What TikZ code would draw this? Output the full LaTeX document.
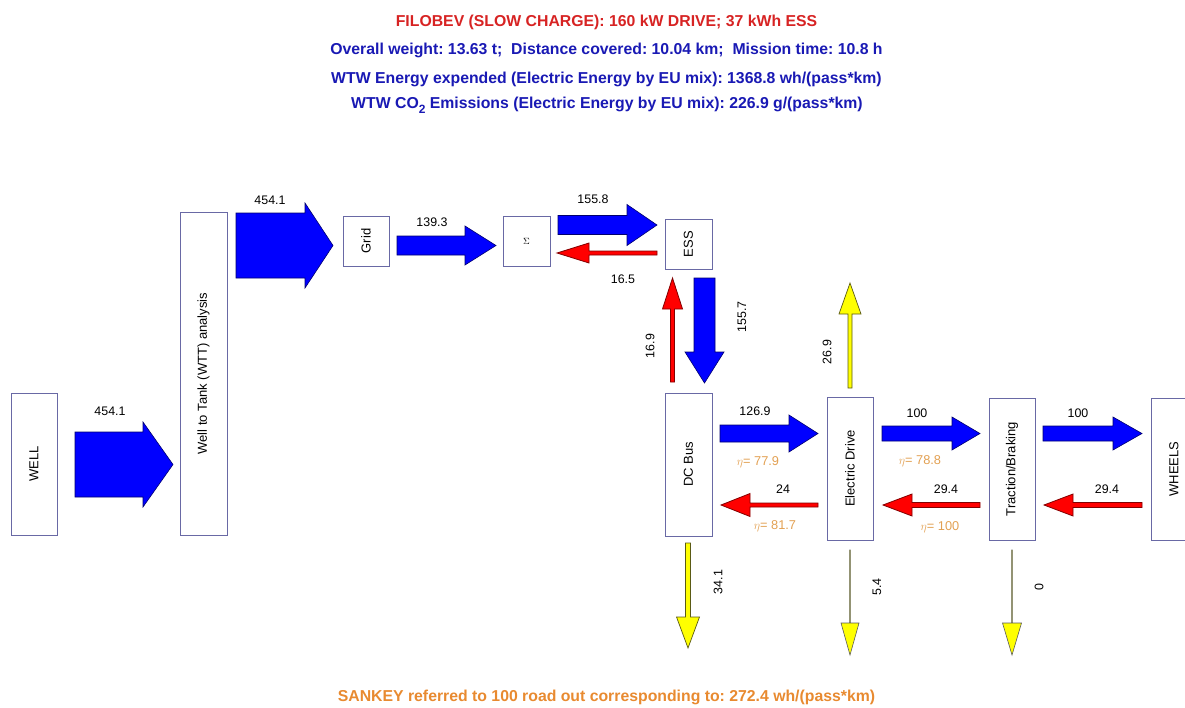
\documentclass[tikz,border=0pt]{standalone}
\usepackage{fontspec}
\usepackage{graphicx}
\setmainfont{Liberation Sans}
\usetikzlibrary{calc}
\frenchspacing
\definecolor{titlered}{RGB}{215,35,35}
\definecolor{titleblue}{RGB}{25,25,180}
\definecolor{bottomorange}{RGB}{232,138,48}
\definecolor{etaorange}{RGB}{226,160,82}
\definecolor{boxborder}{RGB}{105,105,165}
\definecolor{bluefill}{RGB}{0,0,255}
\definecolor{blueline}{RGB}{0,0,110}
\definecolor{redfill}{RGB}{255,0,0}
\definecolor{redline}{RGB}{130,0,0}
\definecolor{yellowfill}{RGB}{255,255,0}
\definecolor{yellowline}{RGB}{90,90,20}
\definecolor{grayline}{RGB}{90,90,90}
% #1 style, #2 start, #3 tip, #4 half body, #5 half head, #6 head length (signed)
\newcommand\HArrow[6]{%
  \draw[#1] let \p1=(#2), \p2=(#3), \n1={#6} in
    (\x1,{\y1+#4}) -- ({\x2-\n1},{\y1+#4}) -- ({\x2-\n1},{\y1+#5}) -- (\x2,\y1)
    -- ({\x2-\n1},{\y1-#5}) -- ({\x2-\n1},{\y1-#4}) -- (\x1,{\y1-#4}) -- cycle;}
\newcommand\VArrow[6]{%
  \draw[#1] let \p1=(#2), \p2=(#3), \n1={#6} in
    ({\x1-#4},\y1) -- ({\x1-#4},{\y2+\n1}) -- ({\x1-#5},{\y2+\n1}) -- (\x1,\y2)
    -- ({\x1+#5},{\y2+\n1}) -- ({\x1+#4},{\y2+\n1}) -- ({\x1+#4},\y1) -- cycle;}
\tikzset{
  box/.style={draw=boxborder, line width=0.7pt, fill=white, inner sep=0pt,
    font=\fontsize{13}{15}\selectfont},
  bluearr/.style={fill=bluefill, draw=blueline, line width=0.6pt, line join=miter},
  redarr/.style={fill=redfill, draw=redline, line width=0.8pt},
  yelarr/.style={fill=yellowfill, draw=yellowline, line width=0.7pt},
  grayarr/.style={fill=yellowfill, draw=grayline, line width=0.6pt},
  num/.style={font=\fontsize{12.4}{14}\selectfont, inner sep=0pt},
  eta/.style={font=\fontsize{12.8}{14}\selectfont, text=etaorange, inner sep=0pt},
  title/.style={font=\fontsize{15.8}{18}\selectfont\bfseries, inner sep=0pt},
}
\begin{document}
\begin{tikzpicture}[x=1pt,y=-1pt]
\useasboundingbox (0,0) rectangle (1185,707);
\clip (0,0) rectangle (1185,707);
% titles
\node[title, text=titlered] (t1) at (606.5,22) {FILOBEV (SLOW CHARGE): 160 kW DRIVE; 37 kWh ESS};
\node[title, text=titleblue] (t2) at (606.5,50) {Overall weight: 13.63 t;\ \ Distance covered: 10.04 km;\ \ Mission time: 10.8 h};
\node[title, text=titleblue] (t3) at (606.5,79) {WTW Energy expended (Electric Energy by EU mix): 1368.8 wh/(pass*km)};
\node[title, text=titleblue] (t4) at (607,105) {WTW CO\raisebox{-0.6ex}{\fontsize{12}{12}\selectfont 2} Emissions (Electric Energy by EU mix): 226.9 g/(pass*km)};
\node[title, text=bottomorange] (t5) at (606.5,697) {SANKEY referred to 100 road out corresponding to: 272.4 wh/(pass*km)};
% boxes
\node[box, minimum width=46pt, minimum height=142pt] (well) at (34,464) {\rotatebox{90}{WELL}};
\node[box, minimum width=47pt, minimum height=323pt] (wtt) at (203.5,373.5) {\rotatebox{90}{Well to Tank (WTT) analysis}};
\node[box, minimum width=46pt, minimum height=50pt] (grid) at (366,241) {\rotatebox{90}{Grid}};
\node[box, minimum width=47pt, minimum height=50pt] (sigma) at (526.5,241) {\fontsize{9}{10}\selectfont$\Sigma$};
\node[box, minimum width=47pt, minimum height=50pt] (ess) at (688.5,244) {\rotatebox{90}{ESS}};
\node[box, minimum width=47pt, minimum height=143pt] (dcbus) at (688.5,464.5) {\rotatebox{90}{DC Bus}};
\node[box, minimum width=46pt, minimum height=143pt] (edrive) at (850,468.5) {\rotatebox{90}{Electric Drive}};
\node[box, minimum width=46pt, minimum height=142pt] (traction) at (1012,469) {\rotatebox{90}{Traction/Braking}};
\node[box, minimum width=46pt, minimum height=142pt] (wheels) at (1174,469) {\rotatebox{90}{WHEELS}};
% arrow end points
\coordinate (a1s) at (75,464.5);   \coordinate (a1e) at (173,464.5);
\coordinate (a2s) at (236,245.5);  \coordinate (a2e) at (333,245.5);
\coordinate (a3s) at (397,245.5);  \coordinate (a3e) at (496,245.5);
\coordinate (a4s) at (558,225);    \coordinate (a4e) at (657,225);
\coordinate (a5s) at (657,253);    \coordinate (a5e) at (557,253);
\coordinate (a6s) at (704.5,278);  \coordinate (a6e) at (704.5,383);
\coordinate (a7s) at (672.5,382);  \coordinate (a7e) at (672.5,278);
\coordinate (a8s) at (720,433.5);  \coordinate (a8e) at (818,433.5);
\coordinate (a9s) at (818,505);    \coordinate (a9e) at (721,505);
\coordinate (a10s) at (688,543);   \coordinate (a10e) at (688,648);
\coordinate (a11s) at (850,388);   \coordinate (a11e) at (850,283);
\coordinate (a12s) at (850,550);   \coordinate (a12e) at (850,655);
\coordinate (a13s) at (882,433.5); \coordinate (a13e) at (980,433.5);
\coordinate (a14s) at (1043,433.5);\coordinate (a14e) at (1142,433.5);
\coordinate (a15s) at (980,505);   \coordinate (a15e) at (883,505);
\coordinate (a16s) at (1142,505);  \coordinate (a16e) at (1044,505);
\coordinate (a17s) at (1012,550);  \coordinate (a17e) at (1012,655);
% arrows
\HArrow{bluearr}{a1s}{a1e}{32.5pt}{42.5pt}{30pt}
\HArrow{bluearr}{a2s}{a2e}{32.5pt}{42.5pt}{28pt}
\HArrow{bluearr}{a3s}{a3e}{9.5pt}{19.5pt}{31pt}
\HArrow{bluearr}{a4s}{a4e}{9.5pt}{20.5pt}{30pt}
\HArrow{redarr}{a5s}{a5e}{2pt}{10pt}{-32pt}
\VArrow{bluearr}{a6s}{a6e}{10.5pt}{19.5pt}{31pt}
\VArrow{redarr}{a7s}{a7e}{2pt}{10pt}{-31pt}
\HArrow{bluearr}{a8s}{a8e}{8.5pt}{18.5pt}{29pt}
\HArrow{redarr}{a9s}{a9e}{2pt}{11.5pt}{-29pt}
\VArrow{yelarr}{a10s}{a10e}{2.5pt}{11.5pt}{31pt}
\VArrow{yelarr}{a11s}{a11e}{2pt}{11pt}{-31pt}
\VArrow{grayarr}{a12s}{a12e}{0.3pt}{9pt}{32pt}
\HArrow{bluearr}{a13s}{a13e}{7.5pt}{16.5pt}{28pt}
\HArrow{bluearr}{a14s}{a14e}{7.5pt}{16.5pt}{29pt}
\HArrow{redarr}{a15s}{a15e}{2.5pt}{11pt}{-29pt}
\HArrow{redarr}{a16s}{a16e}{2.5pt}{11pt}{-29pt}
\VArrow{grayarr}{a17s}{a17e}{0.3pt}{9.5pt}{32pt}
% labels
\node[num] (l1) at (110,411) {454.1};
\node[num] (l2) at (270,200) {454.1};
\node[num] (l3) at (432,222) {139.3};
\node[num] (l4) at (593,199) {155.8};
\node[num] (l5) at (623,279) {16.5};
\node[num, rotate=90] (l6) at (742,317) {155.7};
\node[num, rotate=90] (l7) at (650,346) {16.9};
\node[num] (l8) at (755,411) {126.9};
\node[eta] (e1) at (758,462) {$\eta$= 77.9};
\node[num] (l9) at (783,489) {24};
\node[eta] (e2) at (775,526) {$\eta$= 81.7};
\node[num, rotate=90] (l10) at (718,582) {34.1};
\node[num, rotate=90] (l11) at (877,587) {5.4};
\node[num, rotate=90] (l12) at (1039,587) {0};
\node[num, rotate=90] (l13) at (827,352) {26.9};
\node[num] (l14) at (917,413) {100};
\node[eta] (e3) at (920,461) {$\eta$= 78.8};
\node[num] (l15) at (946,489) {29.4};
\node[eta] (e4) at (940,527) {$\eta$= 100};
\node[num] (l16) at (1078,413) {100};
\node[num] (l17) at (1107,489) {29.4};
\end{tikzpicture}
\end{document}
